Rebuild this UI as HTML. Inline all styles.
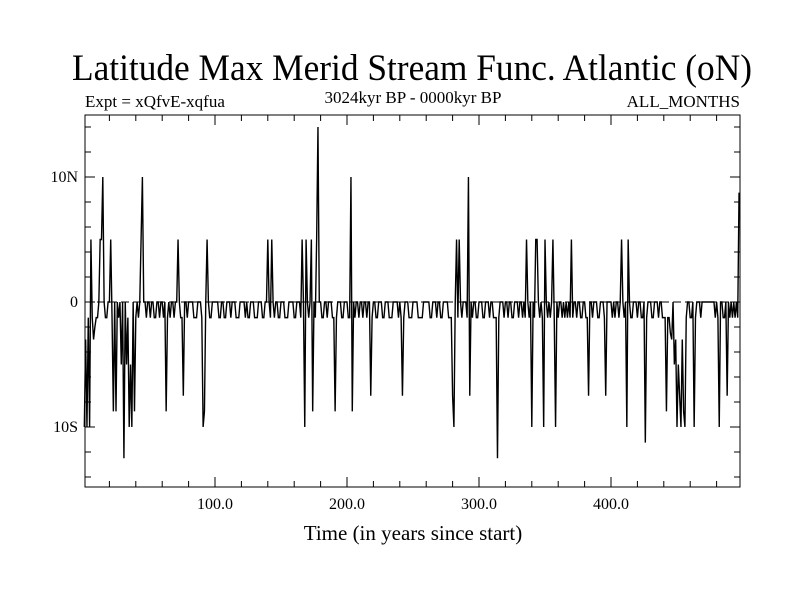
<!DOCTYPE html>
<html><head><meta charset="utf-8"><style>
html,body{margin:0;padding:0;background:#fff;}
svg{display:block;font-family:"Liberation Serif",serif;}
</style></head><body>
<svg id="chart" width="800" height="600" viewBox="0 0 800 600" xmlns="http://www.w3.org/2000/svg">
<rect width="800" height="600" fill="#fff"/>
<text x="412" y="80" font-size="37" text-anchor="middle" textLength="680" lengthAdjust="spacingAndGlyphs">Latitude Max Merid Stream Func. Atlantic (oN)</text>
<text x="85" y="107" font-size="17">Expt = xQfvE-xqfua</text>
<text x="413" y="103" font-size="17" text-anchor="middle">3024kyr BP - 0000kyr BP</text>
<text x="740" y="107" font-size="17" text-anchor="end">ALL_MONTHS</text>
<text x="413" y="540" font-size="21" text-anchor="middle">Time (in years since start)</text>
<g id="ticks"></g>
<g id="plot"></g>
<rect x="85" y="115" width="655" height="372" fill="none" stroke="#000" stroke-width="1"/>
</svg>
<script>
const values = [
-10,-3,-10,-1.25,-10,5,-1.25,-3,-2,-1.25,
-1.25,0,5,5,10,0,-1.25,-1.25,0,0,
5,-1.25,-8.75,0,-8.75,0,-1.25,0,-5,0,
-12.5,0,-5,-1.25,-10,-5,-10,0,-8.75,-1.25,
0,-1.25,0,5,10,0,0,-1.25,0,0,
-1.25,0,0,-1.25,-1.25,0,0,-1.25,0,0,
-1.25,0,-8.75,-1.25,0,-1.25,0,0,-1.25,0,
0,5,0,-1.25,-1.25,-7.5,0,0,-1.25,0,
0,0,0,-1.25,-1.25,-1.25,0,0,0,-1.25,
-10,-8.75,0,5,0,-1.25,-1.25,0,0,0,
0,0,-1.25,-1.25,0,0,-1.25,-1.25,0,0,
0,-1.25,0,0,0,-1.25,-1.25,-1.25,0,0,
0,0,-1.25,0,-1.25,-1.25,0,0,0,-1.25,
-1.25,-1.25,0,0,0,-1.25,-1.25,0,0,5,
0,-1.25,5,0,-1.25,0,0,-1.25,-1.25,0,
0,0,-1.25,-1.25,-1.25,0,0,0,0,-1.25,
-1.25,0,0,0,-1.25,5,0,-10,5,0,
-1.25,0,5,-8.75,0,-1.25,5,14,0,0,
-1.25,-1.25,0,0,-1.25,0,0,0,-1.25,-1.25,
-8.75,-1.25,0,0,0,-1.25,-1.25,0,0,0,
-1.25,-1.25,10,-8.75,0,-1.25,0,0,-1.25,0,
0,-1.25,0,0,-1.25,0,0,-7.5,-1.25,0,
0,-1.25,-1.25,0,0,0,-1.25,-1.25,0,0,
0,-1.25,-1.25,-1.25,0,0,0,0,-1.25,0,
-1.25,-7.5,-1.25,0,0,0,-1.25,-1.25,-1.25,0,
0,0,0,-1.25,-1.25,-1.25,-1.25,0,0,0,
0,0,-1.25,-1.25,0,0,0,-1.25,0,0,
-1.25,-1.25,0,0,0,0,-1.25,-1.25,-1.25,-7.5,
-10,0,5,-1.25,5,0,-1.25,0,0,0,
-1.25,10,-7.5,0,-1.25,0,0,-1.25,-1.25,0,
0,0,-1.25,-1.25,0,0,0,-1.25,0,0,
-1.25,-1.25,-1.25,-12.5,-1.25,0,0,0,-1.25,0,
0,-1.25,0,0,-1.25,-1.25,0,0,0,-1.25,
0,0,-1.25,0,-1.25,5,0,-1.25,0,-10,
0,-1.25,5,5,0,-1.25,0,-1.25,-10,5,
0,-1.25,0,-1.25,0,5,-1.25,-10,0,-1.25,
0,0,-1.25,0,-1.25,0,-1.25,0,-1.25,5,
-1.25,0,0,-1.25,0,0,-1.25,-1.25,0,0,
-1.25,-1.25,-7.5,0,0,-1.25,0,0,0,-1.25,
-1.25,0,0,0,-1.25,-7.5,0,0,0,0,
-1.25,0,-1.25,0,0,-1.25,0,5,0,-1.25,
0,-10,5,0,-1.25,-1.25,0,0,0,-1.25,
0,0,-1.25,-1.25,0,-11.25,-1.25,0,0,0,
-1.25,-1.25,0,0,0,-1.25,0,0,-1.25,-1.25,
-1.25,-8.75,-1.25,-1.25,-2.5,-3,0,-5,-3,-10,
-5,-7.5,-10,-3,-8.75,-10,-1.25,0,0,-1.25,
-1.25,0,-10,-1.25,0,0,0,-1.25,0,0,
0,0,0,0,0,0,0,0,-1.25,0,
-1.25,-10,0,0,-1.25,-1.25,0,-7.5,0,-1.25,
0,-1.25,0,-1.25,0,-1.25,8.75
];
const startYear = 1;
const xTickLabels = [100, 200, 300, 400];
const yTickValues = [10, 0, -10];
const yTickLabels = ["10N", "0", "10S"];

const NS = "http://www.w3.org/2000/svg";
const X0 = 85, X1 = 740, Y0 = 115, Y1 = 487;
const xScale = yr => 215 + (yr - 100) * 1.32;
const yScale = v => 302 - v * 12.5;
const tg = document.getElementById('ticks');
const pg = document.getElementById('plot');
function mk(tag, attrs, parent) {
  const e = document.createElementNS(NS, tag);
  for (const k in attrs) e.setAttribute(k, attrs[k]);
  parent.appendChild(e);
  return e;
}
for (let yr = 20; yr <= 490; yr += 20) {
  const x = xScale(yr);
  const major = yr % 100 === 0;
  const L = major ? 10 : 6;
  const t1 = mk('line', {x1:x, x2:x, y1:Y1, y2:Y1 - L, stroke:'#000'}, tg);
  
  
  const t2 = mk('line', {x1:x, x2:x, y1:Y0, y2:Y0 + L, stroke:'#000'}, tg);
  
  
}
xTickLabels.forEach(v => {
  const t = mk('text', {x:xScale(v), y:509, 'font-size':16, 'text-anchor':'middle'}, tg);
  t.textContent = v.toFixed(1);
  
  
});
for (let v = -14; v <= 14; v += 2) {
  const y = yScale(v);
  const major = v % 10 === 0;
  const L = major ? 10 : 6;
  const t1 = mk('line', {x1:X0, x2:X0 + L, y1:y, y2:y, stroke:'#000'}, tg);
  
  
  const t2 = mk('line', {x1:X1, x2:X1 - L, y1:y, y2:y, stroke:'#000'}, tg);
  
  
}
yTickValues.forEach((v, i) => {
  const t = mk('text', {x:78, y:yScale(v) + 5, 'font-size':16, 'text-anchor':'end'}, tg);
  t.textContent = yTickLabels[i];
  
  
});
const zl = mk('line', {x1:X0, x2:X1, y1:yScale(0), y2:yScale(0), stroke:'#000', 'stroke-dasharray':'8,4', 'stroke-width':1}, pg);


const pts = values.map((v, i) => xScale(startYear + i).toFixed(2) + ',' + yScale(v).toFixed(2)).join(' ');
const line = mk('polyline', {points:pts, fill:'none', stroke:'#000', 'stroke-width':1.4, 'stroke-linejoin':'miter'}, pg);


</script>
</body></html>
